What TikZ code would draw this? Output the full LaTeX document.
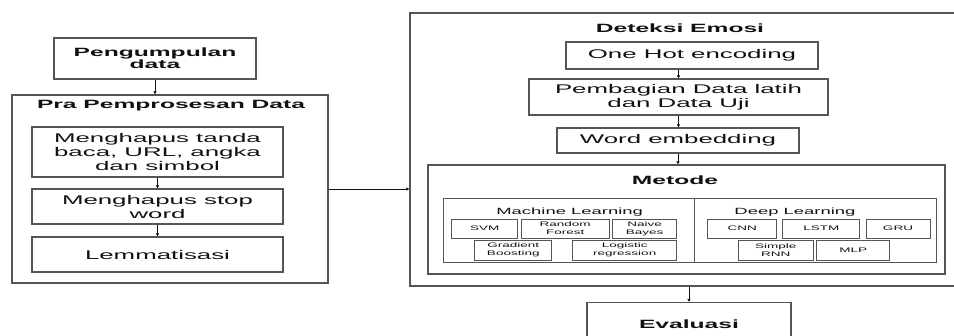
\documentclass[tikz,border=0pt]{standalone}
\usepackage{fontspec}
\setmainfont{Liberation Sans}[FakeStretch=2.05]
\usetikzlibrary{arrows.meta,positioning}
\definecolor{flowInk}{HTML}{111111}
\definecolor{flowLine}{HTML}{555555}
\tikzset{
  every node/.style={text=flowInk, inner sep=0pt},
  boxframe/.style={draw=flowLine, line width=1.1pt, fill=white},
  stepbox/.style={boxframe, align=center, font=\fontsize{12.6}{14}\selectfont},
  headbox/.style={boxframe, align=center, font=\fontsize{12}{12}\selectfont\bfseries},
  heading/.style={font=\fontsize{12}{12}\selectfont\bfseries},
  grouplabel/.style={font=\fontsize{9}{9}\selectfont},
  algo/.style={boxframe, line width=0.9pt, align=center, font=\fontsize{6.6}{8}\selectfont},
  flow/.style={-{Latex[length=3pt,width=3.5pt]}, line width=0.6pt, draw=flowInk}
}

\begin{document}
\begin{tikzpicture}[x=1pt,y=-1pt]
  \useasboundingbox (0,0) rectangle (954,336);
  \clip (0,0) rectangle (954,336);

  % left column
  \node[headbox, minimum width=202, minimum height=41] (kumpul) at (155,58.5) {Pengumpulan\\data};
  \node[boxframe, minimum width=316, minimum height=188] (pra) at (170,189) {};
  \node[heading] (praTitle) at (171,105.5) {Pra Pemprosesan Data};
  \node[stepbox, minimum width=251, minimum height=50] (hapusTanda) at (157.5,152)
    {Menghapus tanda\\baca, URL, angka\\dan simbol};
  \node[stepbox, minimum width=251, minimum height=35] (hapusStop) at (157.5,206.5)
    {Menghapus stop\\word};
  \node[stepbox, minimum width=251, minimum height=35] (lemma) at (157.5,254.5) {Lemmatisasi};

  \draw[flow] (kumpul.south) -- (kumpul.south |- pra.north);
  \draw[flow] (hapusTanda) -- (hapusStop);
  \draw[flow] (hapusStop) -- (lemma);

  % right column
  \node[boxframe, minimum width=552, minimum height=273] (det) at (686,149.5) {};
  \node[heading] (detTitle) at (680,28) {Deteksi Emosi};
  \node[stepbox, minimum width=252, minimum height=27] (onehot) at (692,55.5) {One Hot encoding};
  \node[stepbox, minimum width=299, minimum height=36] (bagi) at (678.5,97)
    {Pembagian Data latih\\dan Data Uji};
  \node[stepbox, minimum width=242, minimum height=25] (embed) at (678,140.5) {Word embedding};
  \node[boxframe, minimum width=517, minimum height=109] (metode) at (686.5,219.5) {};
  \node[heading] (metodeTitle) at (675,180) {Metode};

  \node[boxframe, line width=1pt, minimum width=251, minimum height=64] (ml) at (569,231) {};
  \node[boxframe, line width=1pt, minimum width=241.5, minimum height=64] (dl) at (815.25,231) {};
  \node[grouplabel] (mlTitle) at (569.7,212) {Machine Learning};
  \node[grouplabel] (dlTitle) at (795,212) {Deep Learning};

  \node[algo, minimum width=66, minimum height=19] (svm) at (484.7,228.5) {SVM};
  \node[algo, minimum width=88, minimum height=19] (rf) at (565.2,228.5) {Random\\Forest};
  \node[algo, minimum width=64, minimum height=19] (nb) at (644.7,228.5) {Naive\\Bayes};
  \node[algo, minimum width=77, minimum height=20] (gb) at (513.3,250) {Gradient\\Boosting};
  \node[algo, minimum width=104, minimum height=20] (lr) at (624.7,250) {Logistic\\regression};

  \node[algo, minimum width=69, minimum height=19] (cnn) at (742.3,228.5) {CNN};
  \node[algo, minimum width=77, minimum height=19] (lstm) at (821.3,228.5) {LSTM};
  \node[algo, minimum width=64, minimum height=19] (gru) at (898,228.5) {GRU};
  \node[algo, minimum width=75, minimum height=20] (rnn) at (775.8,250) {Simple\\RNN};
  \node[algo, minimum width=73, minimum height=20] (mlp) at (853.3,250) {MLP};

  \node[headbox, minimum width=204, minimum height=43.5] (eval) at (689,324.25) {Evaluasi};

  \draw[flow] (bagi.north |- onehot.south) -- (bagi.north);
  \draw[flow] (bagi.south) -- (bagi.south |- embed.north);
  \draw[flow] (embed.south) -- (embed.south |- metode.north);
  \draw[flow] (pra.east) -- (pra.east -| det.west);
  \draw[flow] (eval.north |- det.south) -- (eval.north);
\end{tikzpicture}
\end{document}
